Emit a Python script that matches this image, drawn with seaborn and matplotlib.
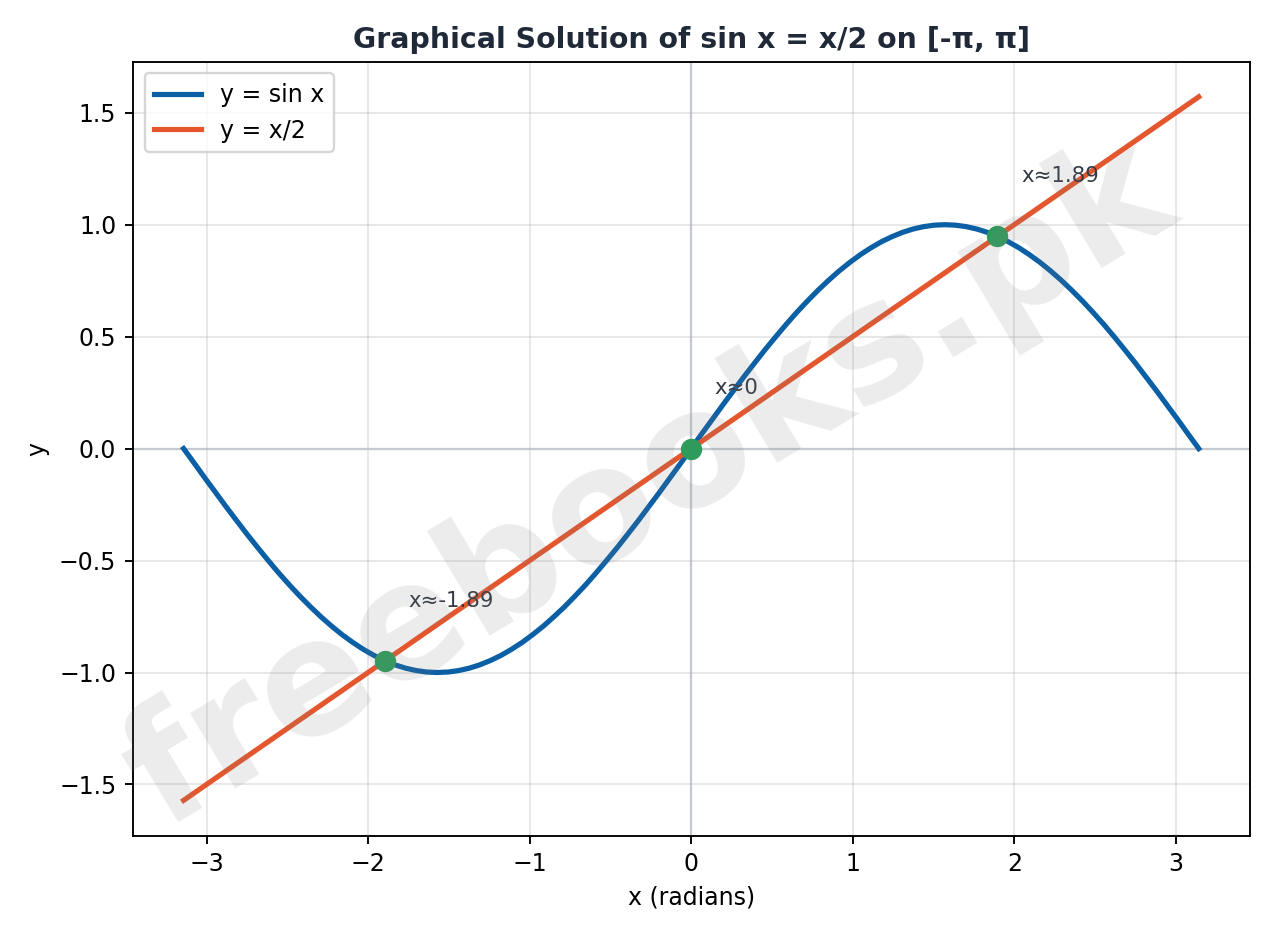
import numpy as np
import pandas as pd
import matplotlib.pyplot as plt
import seaborn as sns

x_sin = [-3.142, -3.076, -3.011, -2.945, -2.880, -2.814, -2.749, -2.683, -2.618, -2.553, -2.487, -2.422,
         -2.356, -2.291, -2.225, -2.160, -2.094, -2.029, -1.963, -1.898, -1.833, -1.767, -1.702, -1.636,
         -1.571, -1.505, -1.440, -1.374, -1.309, -1.244, -1.178, -1.113, -1.047, -0.982, -0.916, -0.851,
         -0.785, -0.720, -0.654, -0.589, -0.524, -0.458, -0.393, -0.327, -0.262, -0.196, -0.131, -0.065,
         0.000, 0.065, 0.131, 0.196, 0.262, 0.327, 0.393, 0.458, 0.524, 0.589, 0.654, 0.720,
         0.785, 0.851, 0.916, 0.982, 1.047, 1.113, 1.178, 1.244, 1.309, 1.374, 1.440, 1.505,
         1.571, 1.636, 1.702, 1.767, 1.833, 1.898, 1.963, 2.029, 2.094, 2.160, 2.225, 2.291,
         2.356, 2.422, 2.487, 2.553, 2.618, 2.683, 2.749, 2.814, 2.880, 2.945, 3.011, 3.076, 3.142]
y_sin = [0.0000, -0.0654, -0.1305, -0.1951, -0.2588, -0.3214, -0.3827, -0.4423, -0.5000, -0.5556, -0.6088, -0.6593,
         -0.7071, -0.7518, -0.7934, -0.8315, -0.8660, -0.8969, -0.9239, -0.9469, -0.9659, -0.9808, -0.9914, -0.9979,
         -1.0000, -0.9979, -0.9914, -0.9808, -0.9659, -0.9469, -0.9239, -0.8969, -0.8660, -0.8315, -0.7934, -0.7518,
         -0.7071, -0.6593, -0.6088, -0.5556, -0.5000, -0.4423, -0.3827, -0.3214, -0.2588, -0.1951, -0.1305, -0.0654,
         0.0000, 0.0654, 0.1305, 0.1951, 0.2588, 0.3214, 0.3827, 0.4423, 0.5000, 0.5556, 0.6088, 0.6593,
         0.7071, 0.7518, 0.7934, 0.8315, 0.8660, 0.8969, 0.9239, 0.9469, 0.9659, 0.9808, 0.9914, 0.9979,
         1.0000, 0.9979, 0.9914, 0.9808, 0.9659, 0.9469, 0.9239, 0.8969, 0.8660, 0.8315, 0.7934, 0.7518,
         0.7071, 0.6593, 0.6088, 0.5556, 0.5000, 0.4423, 0.3827, 0.3214, 0.2588, 0.1951, 0.1305, 0.0654, 0.0000]
x_line = [-3.142, 3.142]
y_line = [-1.571, 1.571]

root_x = [-1.8955, 0.0, 1.8955]
root_y = [-0.948, 0.0, 0.948]
root_labels = ["x≈-1.89", "x≈0", "x≈1.89"]

blue = "#0b5fa5"
orange = "#e4572e"
green = "#2e9b5b"

sin_df = pd.DataFrame({"x": x_sin, "y": y_sin})
line_df = pd.DataFrame({"x": x_line, "y": y_line})
roots_df = pd.DataFrame({"x": root_x, "y": root_y})

fig, ax = plt.subplots(figsize=(7.5, 5.5), dpi=170)

ax.axhline(0, color="#d0d5de", lw=1, zorder=1)
ax.axvline(0, color="#d0d5de", lw=1, zorder=1)

sns.lineplot(data=sin_df, x="x", y="y", sort=False, color=blue, lw=2.2, label="y = sin x", ax=ax, zorder=3)
sns.lineplot(data=line_df, x="x", y="y", sort=False, color=orange, lw=2.2, label="y = x/2", ax=ax, zorder=3)
sns.scatterplot(data=roots_df, x="x", y="y", color=green, s=70, edgecolor=green, ax=ax, zorder=5)

for rx, ry, lab in zip(root_x, root_y, root_labels):
    ax.annotate(lab, (rx, ry), xytext=(10, 23), textcoords="offset points",
                fontsize=9, color="#333a44")

ax.grid(True, alpha=0.3)
ax.set_xlabel("x (radians)")
ax.set_ylabel("y")
ax.set_title("Graphical Solution of sin x = x/2 on [-π, π]", fontsize=12,
             fontweight="bold", color="#1f2937")
ax.legend(loc="upper left")

fig.text(0.51, 0.48, "freebooks.pk", fontsize=68, fontweight="bold", color="gray",
         alpha=0.15, rotation=31, ha="center", va="center")

fig.tight_layout()
fig.savefig("out.png", dpi=170)
